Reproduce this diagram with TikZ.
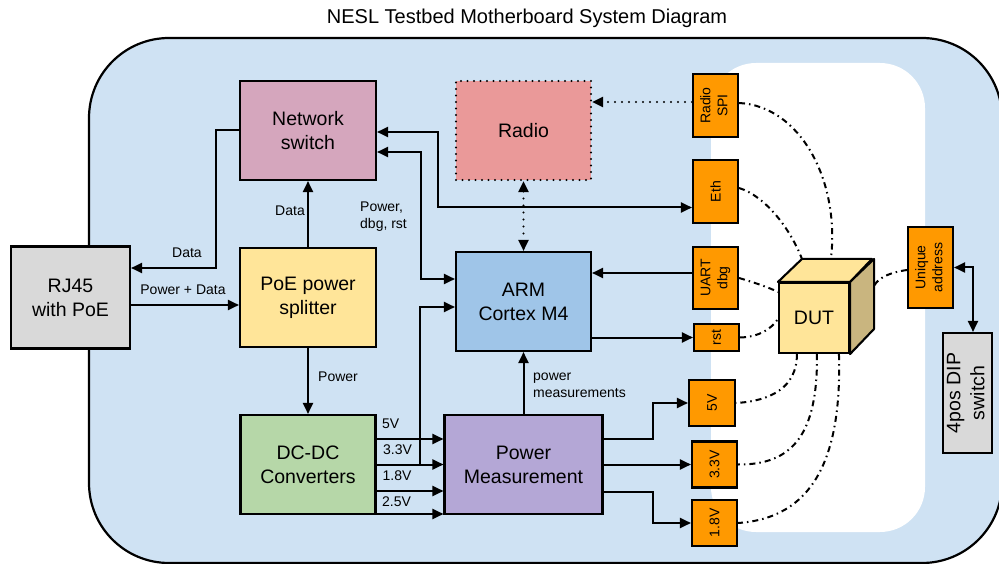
\documentclass[tikz,border=0pt]{standalone}
\usepackage{fontspec}
\usepackage{graphicx}
\setmainfont{Liberation Sans}
\usetikzlibrary{arrows.meta,calc}
\definecolor{bgblue}{HTML}{CFE2F3}
\definecolor{gry}{HTML}{D9D9D9}
\definecolor{pnk}{HTML}{D5A6BD}
\definecolor{ylw}{HTML}{FFE599}
\definecolor{rdo}{HTML}{EA9999}
\definecolor{armb}{HTML}{9FC5E8}
\definecolor{grn}{HTML}{B6D7A8}
\definecolor{prp}{HTML}{B4A7D6}
\definecolor{orng}{HTML}{FF9900}
\definecolor{tan}{HTML}{C9B57F}
\begin{document}
\begin{tikzpicture}[x=1pt,y=-1pt,
  blk/.style={draw=black, line width=2.1pt, align=center, inner sep=0pt, font=\fontsize{19.5}{24}\selectfont},
  ob/.style={draw=black, line width=2.1pt, fill=orng, inner sep=0pt, font=\fontsize{14}{17}\selectfont},
  lbl/.style={inner sep=0pt, align=left, font=\fontsize{14}{17}\selectfont},
  arr/.style={line width=2pt, -{Triangle[length=11pt,width=10pt]}},
  arrb/.style={line width=2pt, {Triangle[length=11pt,width=10pt]}-{Triangle[length=11pt,width=10pt]}},
  dd/.style={line width=2pt, dash pattern=on 6pt off 4pt on 1.5pt off 4pt},
  dotarr/.style={line width=2.2pt, line cap=round, dash pattern=on 0pt off 7pt, {Triangle[length=11pt,width=10pt]}-{Triangle[length=11pt,width=10pt]}},
  dotarrb/.style={line width=2.2pt, line cap=round, dash pattern=on 0pt off 7pt, -{Triangle[length=11pt,width=10pt]}}]
\fill[white] (0,0) rectangle (999,564);
\useasboundingbox (0,0) rectangle (999,564);
% title
\node[font=\fontsize{20}{24}\selectfont] (title) at (527,18) {NESL Testbed Motherboard System Diagram};
% board
\draw[line width=2.2pt, fill=bgblue, rounded corners=80pt] (89,38) rectangle (1002,563);
\fill[white, rounded corners=45pt] (711,63) rectangle (925,532);
% main blocks
\node[blk, fill=gry, minimum width=119pt, minimum height=102pt] (rj) at (70.5,297.5) {RJ45\\with PoE};
\node[blk, fill=pnk, minimum width=136pt, minimum height=99pt] (ns) at (308,130.5) {Network\\switch};
\node[blk, fill=ylw, minimum width=136pt, minimum height=99pt] (poe) at (308,297.5) {PoE power\\splitter};
\node[blk, fill=rdo, draw=black, line width=2.2pt, line cap=round, dash pattern=on 0pt off 6.5pt, minimum width=135pt, minimum height=99pt] (radio) at (523.5,130.5) {Radio};
\node[blk, fill=armb, minimum width=135pt, minimum height=99pt] (arm) at (523.5,301.5) {ARM\\Cortex M4};
\node[blk, fill=grn, minimum width=135pt, minimum height=99pt] (dc) at (308,464.5) {DC-DC\\Converters};
\node[blk, fill=prp, minimum width=158pt, minimum height=99pt] (pm) at (523.5,464.5) {Power\\Measurement};
% orange connectors
\node[ob, minimum width=45pt, minimum height=63pt] (rsp) at (715.5,105.5) {\rotatebox{90}{\begin{tabular}{@{}c@{}}Radio\\SPI\end{tabular}}};
\node[ob, minimum width=45pt, minimum height=63pt] (eth) at (715.5,191.5) {\rotatebox{90}{Eth}};
\node[ob, minimum width=45pt, minimum height=62pt] (uart) at (715.5,278) {\rotatebox{90}{\begin{tabular}{@{}c@{}}UART\\dbg\end{tabular}}};
\node[ob, minimum width=45pt, minimum height=27pt] (rst) at (716.5,337.5) {\rotatebox{90}{rst}};
\node[ob, minimum width=46pt, minimum height=46pt] (v5) at (712,403) {\rotatebox{90}{5V}};
\node[ob, minimum width=45pt, minimum height=46pt] (v33) at (714.5,464.5) {\rotatebox{90}{3.3V}};
\node[ob, minimum width=45pt, minimum height=46pt] (v18) at (714.5,523) {\rotatebox{90}{1.8V}};
\node[ob, minimum width=45pt, minimum height=81pt] (ua) at (930.5,267.5) {\rotatebox{90}{\begin{tabular}{@{}c@{}}Unique\\address\end{tabular}}};
\node[blk, fill=gry, minimum width=49pt, minimum height=120pt] (dip) at (967.5,393) {\rotatebox{90}{\begin{tabular}{@{}c@{}}4pos DIP\\switch\end{tabular}}};
% DUT cube
\node[blk, fill=ylw, minimum width=70pt, minimum height=70pt] (dut) at (814,318) {DUT};
\draw[line width=2.1pt, fill=ylw, line join=round] (dut.north west) -- ++(24,-23) -- ++(70,0) -- (dut.north east) -- cycle;
\draw[line width=2.1pt, fill=tan, line join=round] (dut.north east) -- ++(24,-23) -- ++(0,70) -- (dut.south east) -- cycle;
% connectors
\draw[arr] (ns.west) -- ++(-23,0) |- ([yshift=29.5pt]rj.east);
\node[lbl] (lData1) at (187,253) {Data};
\draw[arr] ([yshift=-7.5pt]rj.east) -- ([yshift=-7.5pt]poe.west);
\node[lbl] (lPD) at (183,290) {Power + Data};
\draw[arr] (poe.north) -- (ns.south);
\node[lbl] (lData2) at (290,211) {Data};
\draw[arr] (poe.south) -- (dc.north);
\node[lbl, anchor=west] (lPow) at (318,377) {Power};
\draw[arrb] ([yshift=-1.5pt]ns.east) -- ++(61,0) |- ([yshift=-16pt]eth.west);
\draw[arrb] ([yshift=-21.5pt]ns.east) -- ++(44,0) |- ([yshift=22.5pt]arm.west);
\node[lbl, anchor=west] (lPdr) at (360,216.5) {Power,\\dbg, rst};
\draw[dotarr] (radio.south) -- (arm.north);
\draw[dotarrb] ([yshift=3.5pt]rsp.west) -- ([yshift=28.5pt]radio.east);
\draw[arr] ([yshift=5pt]uart.west) -- ([yshift=28.5pt]arm.east);
\draw[arr] ([yshift=-36pt]arm.east) -- (rst.west);
% DC-DC to power measurement
\draw[arr] ([yshift=25.5pt]dc.east) -- ([yshift=25.5pt]pm.west);
\draw[arr] (dc.east) -- (pm.west);
\draw[arr] ([yshift=-26.5pt]dc.east) -- ([yshift=-26.5pt]pm.west);
\draw[arr] ([yshift=-49.5pt]dc.east) -- ([yshift=-49.5pt]pm.west);
\node[lbl, anchor=west] (l5) at (382,424) {5V};
\node[lbl, anchor=west] (l33) at (383,450) {3.3V};
\node[lbl, anchor=west] (l18) at (382.5,476) {1.8V};
\node[lbl, anchor=west] (l25) at (382,502) {2.5V};
\draw[arr] (dc.east) ++(43.5,0) |- ([yshift=-5.5pt]arm.west);
\draw[arr] (pm.north) -- (arm.south);
\node[lbl, anchor=west] (lpm) at (533,385.5) {power\\measurements};
% power measurement outputs
\draw[arr] ([yshift=25.5pt]pm.east) -- ++(49.5,0) |- (v5.west);
\draw[arr] (pm.east) -- (v33.west);
\draw[arr] ([yshift=-27pt]pm.east) -- ++(49.5,0) |- (v18.west);
% unique address to DIP
\draw[arrb] (ua.east) -| ([xshift=5.5pt]dip.north);
% DUT dash-dot links
\draw[dd] ([yshift=2.5pt]rsp.east) .. controls (800,106) and (840,180) .. ([xshift=53pt,yshift=23pt]dut.north west);
\draw[dd] ([yshift=3.5pt]eth.east) .. controls (765,196) and (790,228) .. ([xshift=24pt,yshift=23pt]dut.north west);
\draw[dd] (uart.east) .. controls (756,283) and (770,288) .. ([yshift=-10pt]dut.north west);
\draw[dd] (rst.east) .. controls (760,337) and (772,328) .. ([yshift=-37pt]dut.north west);
\draw[dd] ([yshift=-2.5pt]ua.west) .. controls (886,273) and (875,280) .. ([xshift=23pt,yshift=-7pt]dut.north east);
\draw[dd] ([xshift=19pt]dut.south west) .. controls (797,388) and (770,401) .. (v5.east);
\draw[dd] ([xshift=39pt]dut.south west) .. controls (818,435) and (792,465) .. (v33.east);
\draw[dd] ([xshift=61pt]dut.south west) .. controls (842,460) and (812,518) .. (v18.east);
\end{tikzpicture}
\end{document}
